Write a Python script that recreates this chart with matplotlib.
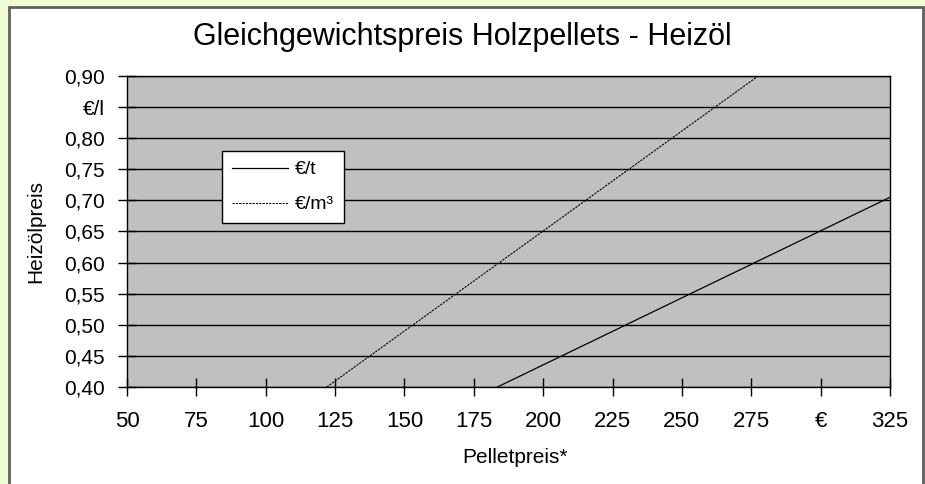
#!/usr/bin/env python

# Break-even price wood pellets vs. heating oil

import matplotlib
matplotlib.use('Agg')
import matplotlib.pyplot as plt
from matplotlib.patches import Rectangle

plt.rcParams['font.family'] = ['Liberation Sans', 'DejaVu Sans']

# Data: pellet price (EUR) -> equivalent heating oil price (EUR/l)
pellet_t = [183.5, 325.0]
oil_t = [0.40, 0.705]
pellet_m3 = [122.0, 277.5]
oil_m3 = [0.40, 0.90]

x_ticks = [50, 75, 100, 125, 150, 175, 200, 225, 250, 275, 300, 325]
x_labels = ['50', '75', '100', '125', '150', '175', '200', '225', '250',
            '275', '€', '325']
y_ticks = [0.40, 0.45, 0.50, 0.55, 0.60, 0.65, 0.70, 0.75, 0.80, 0.85, 0.90]
y_labels = ['0,40', '0,45', '0,50', '0,55', '0,60', '0,65', '0,70', '0,75',
            '0,80', '€/l', '0,90']

fig = plt.figure(figsize=(9.25, 4.84), dpi=100, facecolor='#f0fdd4')

# white panel with grey frame (drawn below the axes)
panel = Rectangle((9/925, -0.02), (923-9)/925, 1.02-8/484+0.002,
                  transform=fig.transFigure, facecolor='white',
                  edgecolor='#606060', linewidth=2, zorder=-5)
fig.patches.append(panel)

ax = fig.add_axes([127/925, 1-387/484, 763/925, 311/484])
ax.set_zorder(2)
ax.set_facecolor('#c0c0c0')

for y in y_ticks:
    ax.axhline(y, color='black', linewidth=1.0, zorder=1)

ax.plot(pellet_t, oil_t, color='black', linewidth=0.9, label='€/t', zorder=3)
ax.plot(pellet_m3, oil_m3, color='black', linewidth=0.8,
        linestyle=(0, (2, 1)), label='€/m³', zorder=3)

ax.set_xlim(50, 325)
ax.set_ylim(0.40, 0.90)
ax.set_xticks(x_ticks)
ax.set_xticklabels(x_labels)
ax.set_yticks(y_ticks)
ax.set_yticklabels(y_labels)
ax.tick_params(axis='both', direction='inout', length=13, width=1)
ax.tick_params(axis='x', labelsize=16, pad=11)
ax.tick_params(axis='y', labelsize=15, pad=9.4)
for s in ax.spines.values():
    s.set_color('black')
    s.set_linewidth(1)

ax.set_xlabel('Pelletpreis*', fontsize=15)
ax.xaxis.set_label_coords(0.5085, -0.228)
ax.xaxis.label.set_va('center')
ax.set_ylabel('Heizölpreis', fontsize=15)
ax.yaxis.set_label_coords(-0.119, 0.5)
ax.yaxis.label.set_va('center')

fig.text(0.5, 1-37/484, 'Gleichgewichtspreis Holzpellets - Heizöl',
         ha='center', va='center', fontsize=22)

leg = ax.legend(loc='upper left', bbox_to_anchor=(95/763, 236/311),
                fontsize=14, frameon=True, fancybox=False, framealpha=1,
                edgecolor='black', handlelength=2.9, borderpad=0.5,
                labelspacing=0.9, handletextpad=0.36, borderaxespad=0)
leg.get_frame().set_linewidth(1)

fig.savefig('out.png', dpi=100, facecolor=fig.get_facecolor())
